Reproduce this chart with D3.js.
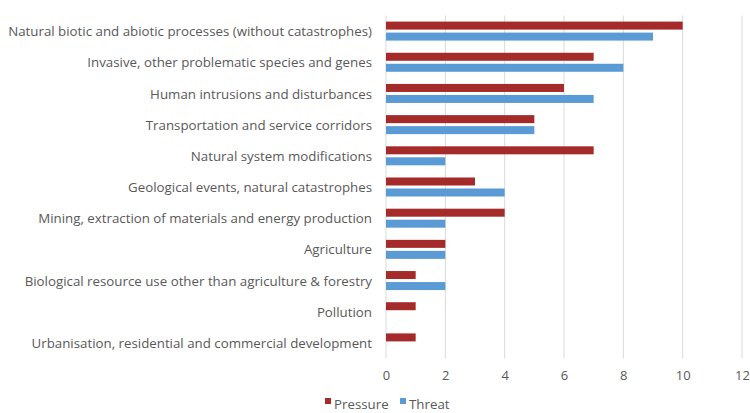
<!DOCTYPE html>
<html>
<head>
<meta charset="utf-8">
<script src="https://cdn.jsdelivr.net/npm/d3@7"></script>
<style>
  html, body { margin: 0; padding: 0; background: #fff; }
  svg text { font-family: "Open Sans", "Liberation Sans", sans-serif; fill: #595959; }
</style>
</head>
<body>
<svg id="chart" width="750" height="413"></svg>
<script>
// Categories of pressures and threats, listed top to bottom
const categories = [
  "Natural biotic and abiotic processes (without catastrophes)",
  "Invasive, other problematic species and genes",
  "Human intrusions and disturbances",
  "Transportation and service corridors",
  "Natural system modifications",
  "Geological events, natural catastrophes",
  "Mining, extraction of materials and energy production",
  "Agriculture",
  "Biological resource use other than agriculture & forestry",
  "Pollution",
  "Urbanisation, residential and commercial development"
];
const pressureValues = [10, 7, 6, 5, 7, 3, 4, 2, 1, 1, 1];
const threatValues   = [9, 8, 7, 5, 2, 4, 2, 2, 2, 0, 0];
const xTicks = [0, 2, 4, 6, 8, 10, 12];
const seriesNames = ["Pressure", "Threat"];
const seriesColors = ["#A52A2A", "#5B9BD5"];

const svg = d3.select("#chart");
const margin = { left: 386, right: 8, top: 15.5, bottom: 54.5 };
const width = 750, height = 413;

const x = d3.scaleLinear().domain([0, 12]).range([margin.left, 742]);
const y = d3.scaleBand().domain(categories).range([margin.top, height - margin.bottom]);

// vertical gridlines
svg.append("g")
  .selectAll("line")
  .data(xTicks)
  .join("line")
  .attr("x1", d => x(d)).attr("x2", d => x(d))
  .attr("y1", margin.top).attr("y2", height - margin.bottom)
  .attr("stroke", "#d9d9d9").attr("stroke-width", 1);

// x axis tick labels
const xAxis = d3.axisBottom(x).tickValues(xTicks).tickSize(0).tickPadding(0).tickFormat(d3.format("d"));
const gx = svg.append("g").attr("transform", `translate(0, ${height - margin.bottom + 17})`).call(xAxis);
gx.select(".domain").remove();
gx.selectAll("text").attr("font-size", 13).attr("fill", "#595959")
  .attr("font-family", '"Open Sans", sans-serif').attr("dy", "0.32em").attr("y", 0);

// category labels
const yAxis = d3.axisLeft(y).tickSize(0).tickPadding(14);
const gy = svg.append("g").attr("transform", `translate(${margin.left}, 0)`).call(yAxis);
gy.select(".domain").remove();
gy.selectAll("text").attr("font-size", 13.3).attr("fill", "#595959")
  .attr("font-family", '"Open Sans", sans-serif').attr("dy", "0.38em");

const barH = 8, gap = 3;
const rows = categories.map((c, i) => ({ c, p: pressureValues[i], t: threatValues[i] }));

// Pressure bars (upper of each pair)
svg.append("g").selectAll("rect")
  .data(rows)
  .join("rect")
  .attr("x", x(0))
  .attr("y", d => y(d.c) + y.bandwidth() / 2 - gap / 2 - barH)
  .attr("width", d => x(d.p) - x(0))
  .attr("height", barH)
  .attr("fill", seriesColors[0]);

// Threat bars (lower of each pair)
svg.append("g").selectAll("rect")
  .data(rows)
  .join("rect")
  .attr("x", x(0))
  .attr("y", d => y(d.c) + y.bandwidth() / 2 + gap / 2)
  .attr("width", d => x(d.t) - x(0))
  .attr("height", barH)
  .attr("fill", seriesColors[1]);

// legend
const legendX = [325, 400];
const legend = svg.append("g");
seriesNames.forEach((name, i) => {
  legend.append("rect")
    .attr("x", legendX[i]).attr("y", 398)
    .attr("width", 6).attr("height", 6)
    .attr("fill", seriesColors[i]);
  legend.append("text")
    .attr("x", legendX[i] + 9).attr("y", 405)
    .attr("dy", "0.32em")
    .attr("font-size", 13.3)
    .text(name);
});
</script>
</body>
</html>
